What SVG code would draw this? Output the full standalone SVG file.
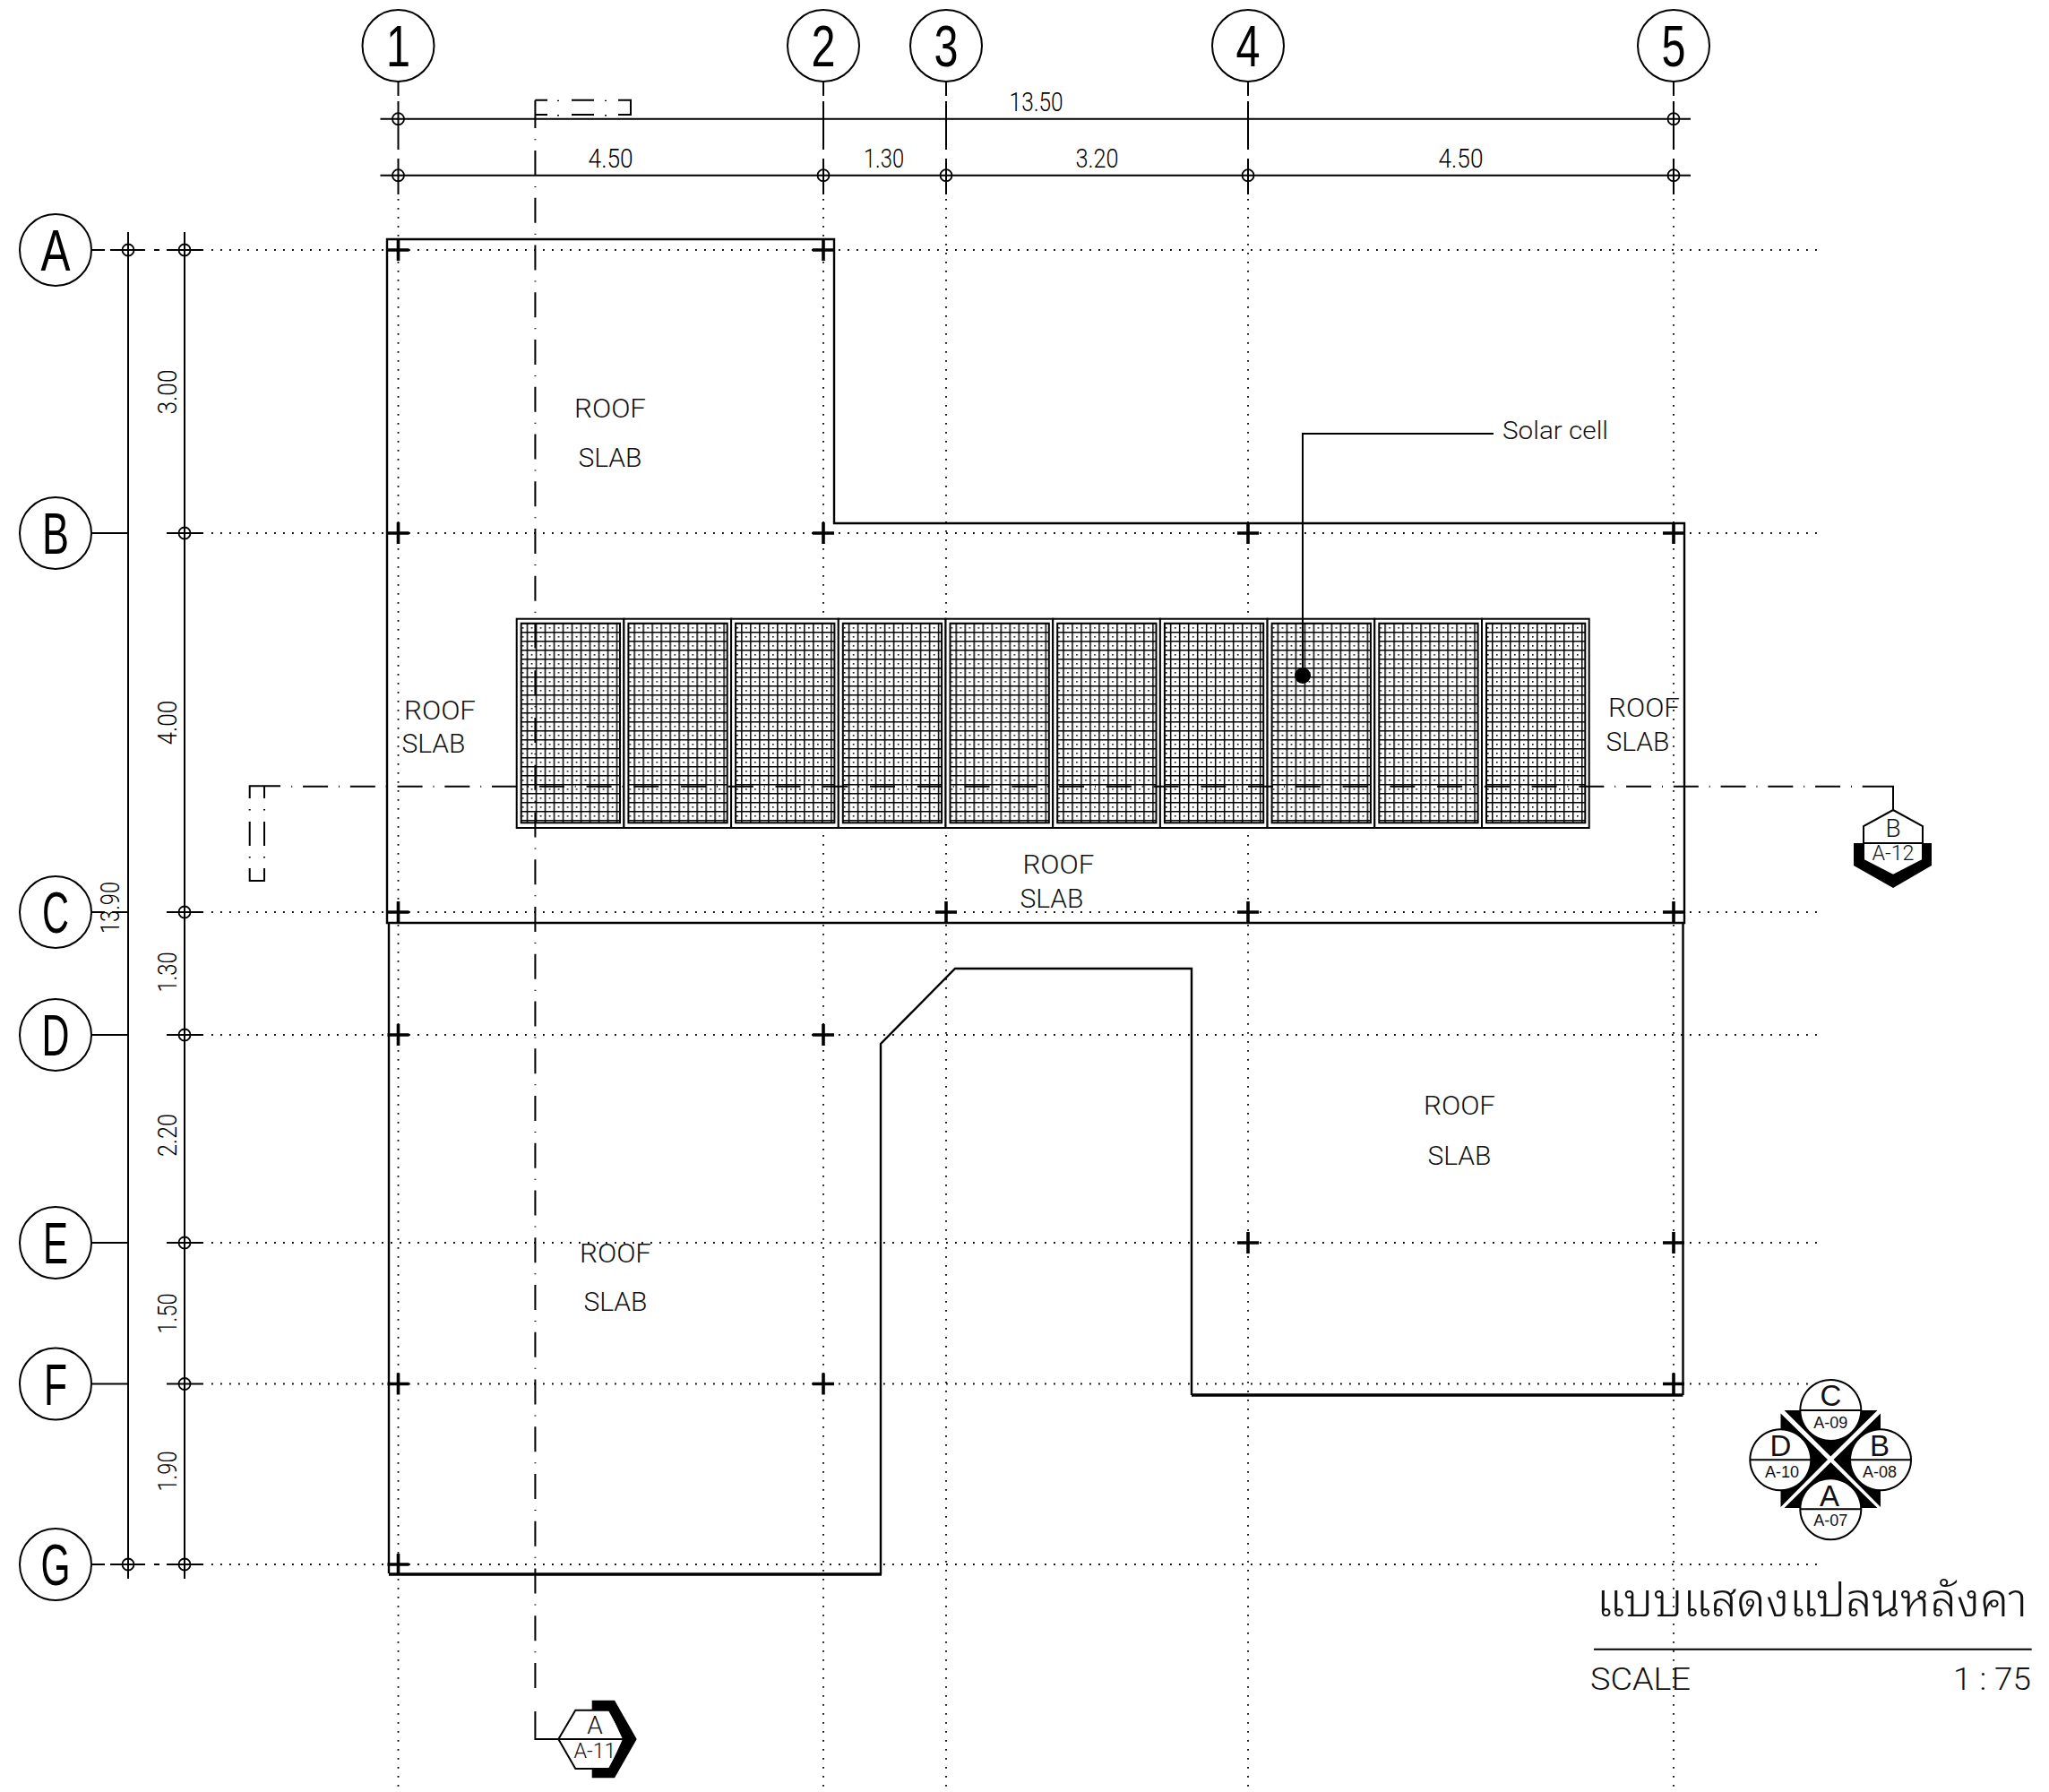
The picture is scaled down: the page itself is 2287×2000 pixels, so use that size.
<svg xmlns="http://www.w3.org/2000/svg" width="2287" height="2000" viewBox="0 0 2287 2000">
<style>
.l{fill:none;stroke:#000;stroke-width:2}
.o{fill:none;stroke:#000;stroke-width:2.4}
.t{fill:none;stroke:#000;stroke-width:3.6}
.dot{fill:none;stroke:#000;stroke-width:1.8;stroke-dasharray:1.8 8.2}
.sec{fill:none;stroke:#000;stroke-width:2;stroke-dasharray:1 11.875 28 11.875}
.bub{fill:#fff;stroke:#000;stroke-width:2}
.bt{font-family:"Liberation Sans",sans-serif;font-size:64px;text-anchor:middle;fill:#000}
.dim{font-family:"Roboto","Liberation Sans",sans-serif;font-weight:300;font-size:29px;text-anchor:middle;fill:#000}
.lab{font-family:"Roboto","Liberation Sans",sans-serif;font-weight:300;font-size:29px;text-anchor:middle;fill:#111}
.sans{font-family:"Liberation Sans",sans-serif;text-anchor:middle;fill:#111}
.thin{font-family:"Roboto","Liberation Sans",sans-serif;font-weight:300;text-anchor:middle;fill:#111}
</style>
<defs>
<pattern id="cells" patternUnits="userSpaceOnUse" x="1" y="4.300" width="10" height="10">
<rect width="10" height="10" fill="#fff"/>
<rect width="10" height="1.500" fill="#000"/>
<rect width="1.500" height="10" fill="#000"/>
<rect x="5" y="5" width="1.600" height="1.600" fill="#000"/>
</pattern>
<g id="panel">
<rect x="0" y="0" width="119.700" height="233.300" fill="#fff" stroke="#000" stroke-width="2"/>
<rect x="5" y="5" width="110.300" height="222.600" fill="url(#cells)" stroke="#000" stroke-width="2"/>
</g>
<path id="cross" d="M-12 0H12M0-12V12" fill="none" stroke="#000" stroke-width="3.600"/>
<g id="tick"><circle r="6.500" fill="none" stroke="#000" stroke-width="1.800"/></g>
</defs>
<rect width="2287" height="2000" fill="#fff"/>

<g id="grid-lines">
<path class="dot" d="M444.500 222V2000M919 222V2000M1056 222V2000M1393 222V2000M1868 222V2000"/>
<path class="dot" d="M236 279H2030M236 595H2030M236 1018H2030M236 1155H2030M236 1387H2030M236 1544.500H2030M236 1746H2030"/>
<path class="l" d="M444.500 91V107M444.500 113V167M444.500 177V217M919 91V107M919 113V167M919 177V217M1056 91V107M1056 113V167M1056 177V217M1393 91V107M1393 113V167M1393 177V217M1868 91V107M1868 113V167M1868 177V217"/>
<path class="l" d="M102 279H117M123 279H162M172 279H178M186 279H227M102 595H143M186 595H227M102 1018H117M125 1018H143M186 1018H227M102 1155H143M186 1155H227M102 1387H143M186 1387H227M102 1544.500H143M186 1544.500H227M102 1746H117M123 1746H162M172 1746H178M186 1746H227"/>
</g>

<g id="dimensions">
<path class="l" d="M424.500 132.700H1887M424.500 195.700H1887M143 259V1762M206 259V1762"/>
<use href="#tick" x="444.500" y="132.700"/><use href="#tick" x="1868" y="132.700"/>
<use href="#tick" x="444.500" y="195.700"/><use href="#tick" x="919" y="195.700"/><use href="#tick" x="1056" y="195.700"/><use href="#tick" x="1393" y="195.700"/><use href="#tick" x="1868" y="195.700"/>
<use href="#tick" x="143" y="279"/><use href="#tick" x="206" y="279"/><use href="#tick" x="206" y="595"/><use href="#tick" x="206" y="1018"/><use href="#tick" x="206" y="1155"/><use href="#tick" x="206" y="1387"/><use href="#tick" x="206" y="1544.500"/><use href="#tick" x="143" y="1746"/><use href="#tick" x="206" y="1746"/>
<text class="dim" x="1156.600" y="124" textLength="60" lengthAdjust="spacingAndGlyphs">13.50</text>
<text class="dim" x="681.600" y="186.700" textLength="50" lengthAdjust="spacingAndGlyphs">4.50</text>
<text class="dim" x="986.500" y="186.700" textLength="45" lengthAdjust="spacingAndGlyphs">1.30</text>
<text class="dim" x="1224.500" y="186.700" textLength="48" lengthAdjust="spacingAndGlyphs">3.20</text>
<text class="dim" x="1630.500" y="186.700" textLength="50" lengthAdjust="spacingAndGlyphs">4.50</text>
<text class="dim" transform="translate(197 437.500) rotate(-90)" textLength="50" lengthAdjust="spacingAndGlyphs">3.00</text>
<text class="dim" transform="translate(197 806.600) rotate(-90)" textLength="50" lengthAdjust="spacingAndGlyphs">4.00</text>
<text class="dim" transform="translate(197 1085) rotate(-90)" textLength="45" lengthAdjust="spacingAndGlyphs">1.30</text>
<text class="dim" transform="translate(197 1267) rotate(-90)" textLength="48" lengthAdjust="spacingAndGlyphs">2.20</text>
<text class="dim" transform="translate(197 1466) rotate(-90)" textLength="45" lengthAdjust="spacingAndGlyphs">1.50</text>
<text class="dim" transform="translate(197 1642) rotate(-90)" textLength="45" lengthAdjust="spacingAndGlyphs">1.90</text>
<text class="dim" transform="translate(133 1013) rotate(-90)" textLength="58" lengthAdjust="spacingAndGlyphs">13.90</text>
</g>

<g id="roof-outlines">
<path class="o" d="M432 267H931V584H1880V1030H432Z"/>
<path class="o" d="M434 1030V1756M983 1757V1165L1066 1081H1330V1557M1878.500 1557V1030"/>
<path class="t" d="M434 1757H984M1330 1557H1878.500"/>
</g>

<g id="columns">
<use href="#cross" x="444.500" y="279"/><use href="#cross" x="919" y="279"/>
<use href="#cross" x="444.500" y="595"/><use href="#cross" x="919" y="595"/><use href="#cross" x="1393" y="595"/><use href="#cross" x="1868" y="595"/>
<use href="#cross" x="444.500" y="1018"/><use href="#cross" x="1056" y="1018"/><use href="#cross" x="1393" y="1018"/><use href="#cross" x="1868" y="1018"/>
<use href="#cross" x="444.500" y="1155"/><use href="#cross" x="919" y="1155"/>
<use href="#cross" x="1393" y="1387"/><use href="#cross" x="1868" y="1387"/>
<use href="#cross" x="444.500" y="1544.500"/><use href="#cross" x="919" y="1544.500"/><use href="#cross" x="1868" y="1544.500"/>
<use href="#cross" x="444.500" y="1746"/>
</g>

<g id="solar-panels">
<use href="#panel" x="576.700" y="690.700"/><use href="#panel" x="696.400" y="690.700"/><use href="#panel" x="816.100" y="690.700"/><use href="#panel" x="935.800" y="690.700"/><use href="#panel" x="1055.500" y="690.700"/><use href="#panel" x="1175.200" y="690.700"/><use href="#panel" x="1294.900" y="690.700"/><use href="#panel" x="1414.600" y="690.700"/><use href="#panel" x="1534.300" y="690.700"/><use href="#panel" x="1654" y="690.700"/>
</g>

<g id="section-lines">
<path class="l" d="M597.400 111.700V143M597.400 111.700H611M690 111.700H704V128H690M597.400 128H611M638 111.700H663M638 128H663M623 111.700V113M623 128V129.500M676 111.700V113M676 128V129.500"/>
<path class="sec" d="M597.400 155.200V1884"/>
<path class="l" d="M597.400 1910V1941H623"/>
<path class="l" d="M278.700 891V877.300H313M295 877.300V891M278.700 917V944M295 917V944M278.700 969V983H295V969M278.700 903V904.500M295 903V904.500M278.700 956V957.500M295 956V957.500"/>
<path class="sec" d="M325.200 877.700H2072"/>
<path class="l" d="M2078.700 877.700H2113V904"/>
</g>

<g id="section-A">
<path d="M660.700 1897.700H686L710.700 1941L686 1984.300H660.700V1974H680L695 1941L680 1908.700H660.700Z" fill="#000"/>
<path class="l" d="M623.300 1941L642.300 1908.700H680L698 1941L680 1974H642.300ZM623.300 1941H695"/>
<text class="thin" x="664" y="1935" font-size="28">A</text>
<text class="thin" x="664" y="1961.700" font-size="24" textLength="47" lengthAdjust="spacingAndGlyphs">A-11</text>
</g>

<g id="section-B">
<path d="M2069 941H2080V960L2113 977L2146 960V941H2156V966L2113 991L2069 966Z" fill="#000"/>
<path class="l" d="M2113 904L2146 922V960L2113 977L2080 960V922ZM2080 941H2146"/>
<text class="thin" x="2113" y="934" font-size="28">B</text>
<text class="thin" x="2113" y="960" font-size="24" textLength="47" lengthAdjust="spacingAndGlyphs">A-12</text>
</g>

<g id="solar-callout">
<path class="l" d="M1667 484H1454V754"/>
<circle cx="1454" cy="754" r="9" fill="#000"/>
<text x="1677" y="490" font-family="Roboto,'Liberation Sans',sans-serif" font-weight="300" font-size="28" fill="#111" textLength="118" lengthAdjust="spacingAndGlyphs">Solar cell</text>
</g>

<g id="roof-labels">
<text class="lab" x="681" y="465.700" textLength="80" lengthAdjust="spacingAndGlyphs">ROOF</text><text class="lab" x="681" y="521" textLength="71" lengthAdjust="spacingAndGlyphs">SLAB</text>
<text class="lab" x="491" y="803" textLength="80" lengthAdjust="spacingAndGlyphs">ROOF</text><text class="lab" x="484" y="840" textLength="71" lengthAdjust="spacingAndGlyphs">SLAB</text>
<text class="lab" x="1835" y="800" textLength="80" lengthAdjust="spacingAndGlyphs">ROOF</text><text class="lab" x="1828" y="838.300" textLength="71" lengthAdjust="spacingAndGlyphs">SLAB</text>
<text class="lab" x="1181.400" y="975" textLength="80" lengthAdjust="spacingAndGlyphs">ROOF</text><text class="lab" x="1174" y="1012.600" textLength="71" lengthAdjust="spacingAndGlyphs">SLAB</text>
<text class="lab" x="1629" y="1244" textLength="80" lengthAdjust="spacingAndGlyphs">ROOF</text><text class="lab" x="1629" y="1300" textLength="71" lengthAdjust="spacingAndGlyphs">SLAB</text>
<text class="lab" x="687" y="1408.600" textLength="80" lengthAdjust="spacingAndGlyphs">ROOF</text><text class="lab" x="687" y="1463" textLength="71" lengthAdjust="spacingAndGlyphs">SLAB</text>
</g>

<g id="bubble-1"><circle class="bub" cx="444.500" cy="51" r="40"/><text class="bt" x="444.500" y="74" textLength="27" lengthAdjust="spacingAndGlyphs">1</text></g>
<g id="bubble-2"><circle class="bub" cx="919" cy="51" r="40"/><text class="bt" x="919" y="74" textLength="27" lengthAdjust="spacingAndGlyphs">2</text></g>
<g id="bubble-3"><circle class="bub" cx="1056" cy="51" r="40"/><text class="bt" x="1056" y="74" textLength="27" lengthAdjust="spacingAndGlyphs">3</text></g>
<g id="bubble-4"><circle class="bub" cx="1393" cy="51" r="40"/><text class="bt" x="1393" y="74" textLength="27" lengthAdjust="spacingAndGlyphs">4</text></g>
<g id="bubble-5"><circle class="bub" cx="1868" cy="51" r="40"/><text class="bt" x="1868" y="74" textLength="27" lengthAdjust="spacingAndGlyphs">5</text></g>
<g id="bubble-A"><circle class="bub" cx="62" cy="279" r="40"/><text class="bt" x="62" y="302" textLength="33" lengthAdjust="spacingAndGlyphs">A</text></g>
<g id="bubble-B"><circle class="bub" cx="62" cy="595" r="40"/><text class="bt" x="62" y="618" textLength="30" lengthAdjust="spacingAndGlyphs">B</text></g>
<g id="bubble-C"><circle class="bub" cx="62" cy="1018" r="40"/><text class="bt" x="62" y="1041" textLength="30" lengthAdjust="spacingAndGlyphs">C</text></g>
<g id="bubble-D"><circle class="bub" cx="62" cy="1155" r="40"/><text class="bt" x="62" y="1178" textLength="31" lengthAdjust="spacingAndGlyphs">D</text></g>
<g id="bubble-E"><circle class="bub" cx="62" cy="1387" r="40"/><text class="bt" x="62" y="1410" textLength="28" lengthAdjust="spacingAndGlyphs">E</text></g>
<g id="bubble-F"><circle class="bub" cx="62" cy="1544.500" r="40"/><text class="bt" x="62" y="1567.500" textLength="26" lengthAdjust="spacingAndGlyphs">F</text></g>
<g id="bubble-G"><circle class="bub" cx="62" cy="1746" r="40"/><text class="bt" x="62" y="1769" textLength="33" lengthAdjust="spacingAndGlyphs">G</text></g>

<g id="elevation-key">
<path d="M1991.500 1574H2095.500L2043.300 1625.500ZM1987.500 1577.500V1682L2040 1629ZM1991.500 1683H2095.500L2043.300 1632ZM2099 1577.500V1682L2046.500 1629Z" fill="#000"/>
<path class="bub" d="M2043.300 1540a34 34 0 1 0 0.010 0M2009.300 1574H2077.300"/>
<path class="bub" d="M1987.300 1595.300a34 34 0 1 0 0.010 0M1953.300 1629.300H2021.300"/>
<path class="bub" d="M2099 1595.300a34 34 0 1 0 0.010 0M2065 1629.300H2133"/>
<path class="bub" d="M2043.300 1650.300a34 34 0 1 0 0.010 0M2009.300 1684.300H2077.300"/>
<text class="sans" x="2043.300" y="1569" font-size="33">C</text><text class="sans" x="2043.300" y="1594" font-size="18">A-09</text>
<text class="sans" x="1987.300" y="1625" font-size="33">D</text><text class="sans" x="1989" y="1649" font-size="18">A-10</text>
<text class="sans" x="2098" y="1625" font-size="33">B</text><text class="sans" x="2098" y="1649" font-size="18">A-08</text>
<text class="sans" x="2042" y="1680.700" font-size="33">A</text><text class="sans" x="2043.300" y="1703" font-size="18">A-07</text>
</g>

<g id="title">
<text x="1782" y="1803.500" font-family="'Noto Sans Thai Looped','Noto Serif Thai','Loma','Garuda','Norasi','Tlwg Typo','Noto Sans Thai','Noto Sans',sans-serif" font-weight="300" font-size="52" textLength="481" lengthAdjust="spacingAndGlyphs" fill="#111">แบบแสดงแปลนหลังคา</text>
<path d="M1779 1840.700H2267.700" fill="none" stroke="#000" stroke-width="2"/>
<text x="1775" y="1886" font-family="Roboto,'Liberation Sans',sans-serif" font-weight="300" font-size="35" fill="#111" textLength="112" lengthAdjust="spacingAndGlyphs">SCALE</text>
<text x="2180" y="1886" font-family="Roboto,'Liberation Sans',sans-serif" font-weight="300" font-size="35" fill="#111" textLength="87" lengthAdjust="spacingAndGlyphs">1 : 75</text>
</g>
</svg>
